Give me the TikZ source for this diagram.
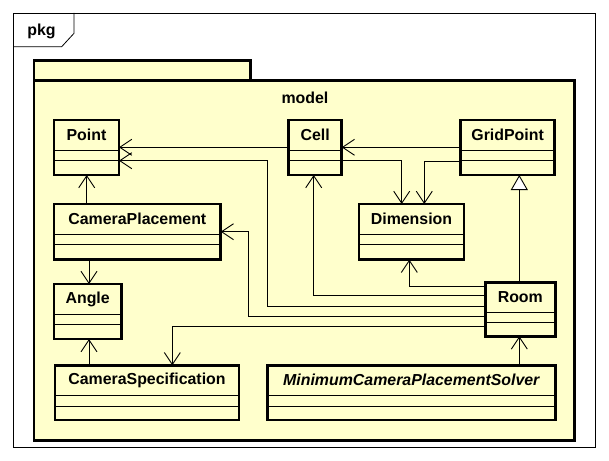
\documentclass[tikz,border=0pt]{standalone}
\usepackage{fontspec}
\setmainfont{Liberation Sans}
\usetikzlibrary{arrows.meta,calc}
\definecolor{umlfill}{RGB}{255,255,204}
\tikzset{
  cls/.style={draw, line width=2.6pt, fill=umlfill, inner sep=0pt, outer sep=0pt, anchor=north west, rectangle},
  clsname/.style={font=\fontsize{15.9}{18}\selectfont\bfseries, inner sep=0pt},
  comp/.style={line width=0.9pt},
  assoc/.style={line width=0.9pt, -{Straight Barb[length=12pt,width=16pt,line width=0.9pt]}},
  gen/.style={line width=0.9pt, -{Triangle[open,length=15pt,width=17pt,fill=white,line width=0.9pt]}},
}
\newcommand\umlclass[6]{%
  \node[cls, minimum width=#4pt, minimum height=#5pt] (#1) at (#2,#3) {};
  \draw[comp] ($(#1.north west)+(0,30)$) -- ++(#4,0);
  \draw[comp] ($(#1.north west)+(0,40.7)$) -- ++(#4,0);
  \node[clsname] (#1-name) at ($(#1.north)+(0,15)$) {#6};
}
\begin{document}
\begin{tikzpicture}[x=1pt,y=-1pt]
\useasboundingbox (0,0) rectangle (609,460);
\fill[white] (0,0) rectangle (609,460);
% outer frame
\draw[line width=0.8pt] (13,13) rectangle (595,447.7);
\draw[line width=0.8pt] (74,13) -- (74,33.3) -- (61.7,46.7) -- (13,46.7);
\node[clsname] (pkg) at (41.5,31) {pkg};
% package
\draw[line width=2.6pt, fill=umlfill] (34,60.7) rectangle (250.7,80.3);
\draw[line width=2.6pt, fill=umlfill] (34,80.3) rectangle (574.7,440.2);
\node[clsname] (model) at (305,98) {model};
% classes
\umlclass{point}{54}{120}{65}{55}{Point}
\umlclass{cell}{288.5}{120}{53.2}{55}{Cell}
\umlclass{gridpoint}{460.5}{120}{94.2}{55}{GridPoint}
\umlclass{cameraplacement}{54}{204}{166.7}{55.7}{CameraPlacement}
\umlclass{dimension}{359}{204}{105}{55.7}{Dimension}
\umlclass{angle}{54}{284}{67.3}{55}{Angle}
\umlclass{room}{485.3}{282.2}{70}{54.1}{Room}
\umlclass{cameraspec}{55}{365.3}{184}{54.7}{CameraSpecification}
\umlclass{solver}{267.3}{365.3}{288}{54.7}{\itshape MinimumCameraPlacementSolver}
% connectors
\draw[assoc] (cell.west |- 0,147.3) -- (point.east |- 0,147.3);
\draw[assoc] (gridpoint.west |- 0,147.3) -- (cell.east |- 0,147.3);
\draw[assoc] (cell.east |- 0,160.7) -| (dimension.north -| 401.7,0);
\draw[assoc] (gridpoint.west |- 0,161.3) -| (dimension.north -| 424.3,0);
\draw[assoc] (cameraplacement.north -| 86.7,0) -- (point.south -| 86.7,0);
\draw[assoc] (cameraplacement.south -| 89,0) -- (angle.north -| 89,0);
\draw[assoc] (cameraspec.north -| 89,0) -- (angle.south -| 89,0);
\draw[gen] (room.north -| 519.3,0) -- (gridpoint.south -| 519.3,0);
\draw[assoc] (solver.north -| 519.3,0) -- (room.south -| 519.3,0);
\draw[assoc] (room.west |- 0,286) -| (dimension.south -| 409.3,0);
\draw[assoc] (room.west |- 0,295) -| (cell.south -| 313.7,0);
\draw[assoc] (room.west |- 0,306.5) -| (267.7,160.7) -- (point.east |- 0,160.7);
\draw[assoc] (room.west |- 0,316.7) -| (248.3,231.7) -- (cameraplacement.east |- 0,231.7);
\draw[assoc] (room.west |- 0,326) -| (cameraspec.north -| 172.3,0);
\end{tikzpicture}
\end{document}
